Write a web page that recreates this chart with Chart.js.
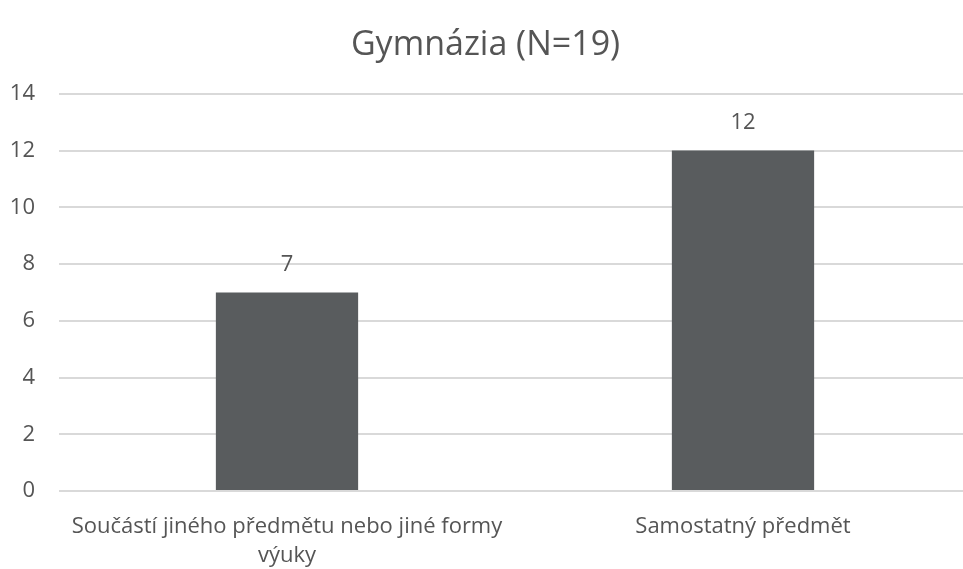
<!DOCTYPE html>
<html>
<head>
<meta charset="utf-8">
<script src="https://cdn.jsdelivr.net/npm/chart.js@4"></script>
<style>
  html, body { margin: 0; padding: 0; background: #fff; overflow: hidden; }
  #wrap { width: 975px; height: 569px; }
</style>
</head>
<body>
<div id="wrap"><canvas id="chart"></canvas></div>
<script>
// chart data
const categories = [
    ["Součástí jiného předmětu nebo jiné formy", "výuky"],
    "Samostatný předmět"
];
const counts = [7, 12];
const yTicks = [0, 2, 4, 6, 8, 10, 12, 14];

const textColor = "#555555";
const fontFamily = "'Open Sans', Lato, sans-serif";

// draws the value above each bar
const valueLabels = {
    id: "valueLabels",
    afterDatasetsDraw(chart) {
        const ctx = chart.ctx;
        const meta = chart.getDatasetMeta(0);
        ctx.save();
        ctx.fillStyle = textColor;
        ctx.font = "22px " + fontFamily;
        ctx.textAlign = "center";
        ctx.textBaseline = "middle";
        meta.data.forEach((bar, i) => {
            ctx.fillText(String(counts[i]), bar.x, bar.y - 28);
        });
        ctx.restore();
    }
};

new Chart(document.getElementById("chart"), {
    type: "bar",
    data: {
        labels: categories,
        datasets: [{
            data: counts,
            backgroundColor: "#595c5e",
            categoryPercentage: 1,
            barPercentage: 0.312
        }]
    },
    options: {
        responsive: true,
        maintainAspectRatio: false,
        animation: false,
        layout: { padding: { left: 0, right: 4, top: 0, bottom: 0 } },
        scales: {
            y: {
                min: 0,
                max: 14,
                afterBuildTicks: (s) => { s.ticks = yTicks.map(v => ({ value: v })); },
                afterFit: (s) => { s.width = 59; },
                border: { display: false },
                grid: { color: "#d9d9d9", lineWidth: 2, drawTicks: false },
                ticks: {
                    color: textColor,
                    padding: 24,
                    font: { family: fontFamily, size: 22 }
                }
            },
            x: {
                afterFit: (s) => { s.height = 78; },
                border: { display: false },
                grid: { display: false, drawTicks: false },
                ticks: {
                    color: textColor,
                    padding: 21,
                    maxRotation: 0,
                    autoSkip: false,
                    font: { family: fontFamily, size: 22, lineHeight: 1.32 }
                }
            }
        },
        plugins: {
            legend: { display: false },
            tooltip: { enabled: false },
            title: {
                display: true,
                text: "Gymnázia (N=19)",
                color: textColor,
                font: { family: fontFamily, size: 34, weight: "normal" },
                padding: { top: 25, bottom: 28 }
            }
        }
    },
    plugins: [valueLabels]
});
</script>
</body>
</html>
